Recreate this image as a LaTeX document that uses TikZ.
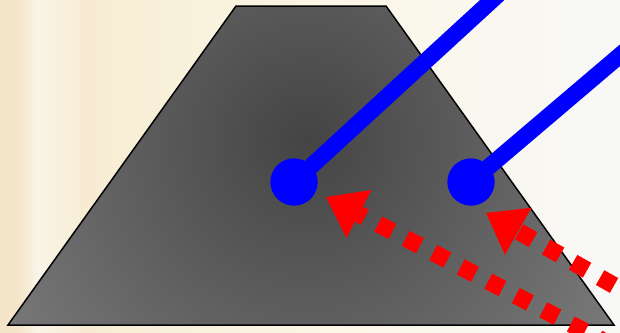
\documentclass[tikz,border=0pt]{standalone}
\usetikzlibrary{arrows.meta}
\definecolor{bgA}{HTML}{F4E5C8}
\definecolor{bgB}{HTML}{F8EED6}
\definecolor{bgC}{HTML}{FBF6E6}
\definecolor{bgD}{HTML}{F8F8F7}
\definecolor{streak}{HTML}{F9F4E8}
\definecolor{trapIn}{HTML}{444444}
\definecolor{trapOut}{HTML}{828282}
\tikzset{
  trapline/.style={draw=black, line width=1.5pt, line join=miter},
  bluerod/.style={draw=blue, line width=16.5pt, line cap=butt},
  bluedot/.style={circle, fill=blue, minimum size=47pt, inner sep=0pt},
  redarrow/.style={draw=red, line width=17pt, dash pattern=on 16pt off 15pt,
    -{Triangle[length=37pt, width=54pt, line width=0pt, fill=red]}}
}
\begin{document}
\begin{tikzpicture}[x=1pt, y=-1pt]
\useasboundingbox (0,0) rectangle (620,332);
\clip (0,0) rectangle (620,332);
% background
\shade[left color=bgA, right color=bgB] (0,0) rectangle (120,332);
\shade[left color=bgB, right color=bgC] (120,0) rectangle (330,332);
\shade[left color=bgC, right color=bgD] (330,0) rectangle (620,332);
\shade[left color=bgA, right color=streak] (18,0) rectangle (36,332);
\shade[left color=streak, right color=bgB] (36,0) rectangle (80,332);
% trapezoid
\coordinate (tl) at (236,6);
\coordinate (tr) at (386,6);
\coordinate (br) at (614,325);
\coordinate (bl) at (8,325);
\begin{scope}
  \clip (tl) -- (tr) -- (br) -- (bl) -- cycle;
  \shade[inner color=trapIn, outer color=trapOut] (305,140) circle (420);
\end{scope}
\draw[trapline] (tl) -- (tr) -- (br) -- (bl) -- cycle;
% blue rods
\node[bluedot] (c1) at (294,182) {};
\node[bluedot] (c2) at (471,182) {};
\coordinate (e1) at (514,-20);
\coordinate (e2) at (645,34);
\draw[bluerod] (c1.center) -- (e1);
\draw[bluerod] (c2.center) -- (e2);
\node[bluedot] at (c1) {};
\node[bluedot] at (c2) {};
% red arrows
\coordinate (s1) at (640,360);
\coordinate (t1) at (326,197);
\coordinate (s2) at (668,316);
\coordinate (t2) at (486,213);
\draw[redarrow] (s1) -- (t1);
\draw[redarrow] (s2) -- (t2);
\end{tikzpicture}
\end{document}
